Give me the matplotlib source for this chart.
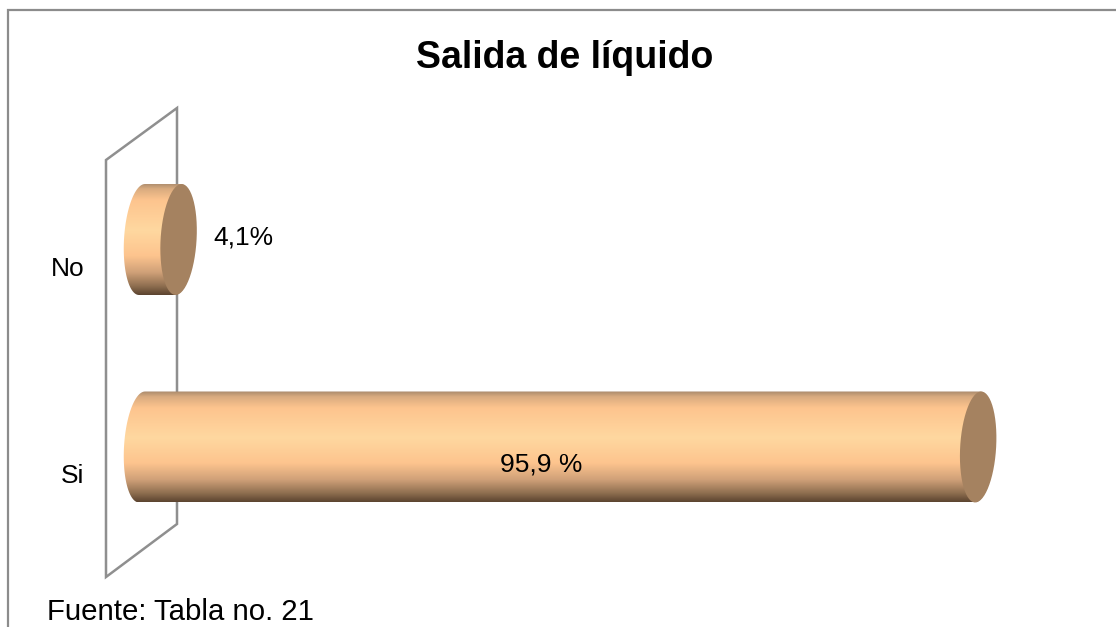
import numpy as np
import matplotlib as mpl
mpl.use('Agg')
import matplotlib.pyplot as plt
from matplotlib.colors import LinearSegmentedColormap
from matplotlib.patches import Polygon, PathPatch
from matplotlib.path import Path

categories = ['Si', 'No']
values = [95.9, 4.1]
value_labels = ['95,9 %', '4,1%']
title = 'Salida de líquido'
source = 'Fuente: Tabla no. 21'

plt.rcParams['font.family'] = ['Liberation Sans', 'DejaVu Sans']

W, H = 1116, 627
fig = plt.figure(figsize=(W / 100, H / 100), dpi=100)
ax = fig.add_axes([0, 0, 1, 1])
ax.axis('off')

# pixels per unit, measured on the picture
x0, sx = 142.0, 8.71
y0, sy = 447.0, 207.5
xlim = (-x0 / sx, (W - x0) / sx)
ylim = ((y0 - H) / sy, y0 / sy)

# pixel coords (y down) for frame and wall
px = mpl.transforms.Affine2D().scale(1, -1).translate(0, H)

# outer frame, only left and top show
ax.add_patch(Polygon([(8, 700), (8, 10), (1200, 10)], closed=False, fill=False,
                     ec='#8c8c8c', lw=1.6, transform=px, zorder=1))
# back wall
ax.add_patch(Polygon([(106, 160), (177, 108), (177, 524), (106, 577)], closed=True, fill=False,
                     ec='#8f8f8f', lw=1.8, transform=px, zorder=1))

shades = LinearSegmentedColormap.from_list('tube', [
    (0.0, '#a98a6c'), (0.05, '#d9ab7f'), (0.15, '#fdc48e'), (0.42, '#ffd8a0'),
    (0.65, '#fdc48e'), (0.8, '#cfa078'), (0.92, '#8f6f50'), (1.0, '#5c4430')])
grad = np.linspace(0, 1, 256).reshape(-1, 1)

half_h = 55.5 / sy
half_w = 18.0 / sx
skew = 3.0 / sx


def ellipse(cx, cy, start, stop):
    t = np.linspace(start, stop, 60)
    return np.column_stack([cx + half_w * np.cos(t) + skew * np.sin(t), cy + half_h * np.sin(t)])


for i, v in enumerate(values):
    body = np.vstack([ellipse(0, i, np.pi / 2, 3 * np.pi / 2), ellipse(v, i, -np.pi / 2, np.pi / 2)])
    clip = PathPatch(Path(np.vstack([body, body[:1]])), transform=ax.transData, fc='none', ec='none')
    ax.add_patch(clip)
    im = ax.imshow(grad, cmap=shades, aspect='auto', zorder=2, vmin=0, vmax=1,
                   extent=(-half_w - skew, v + half_w + skew, i - half_h, i + half_h), origin='upper')
    im.set_clip_path(clip)
    ax.add_patch(Polygon(ellipse(v + 0.1, i, 0, 2 * np.pi), closed=True, fc='#a58260', ec='none', zorder=3))

ax.set_xlim(xlim)
ax.set_ylim(ylim)

for i, c in enumerate(categories):
    ax.text(-6.6, i - 0.14, c, ha='right', va='center', fontsize=19, color='black', zorder=4)

ax.text(45.8, -0.085, value_labels[0], ha='center', va='center', fontsize=19, zorder=4)
ax.text(values[1] + 4.1, 1.01, value_labels[1], ha='left', va='center', fontsize=19, zorder=4)

ax.text(565, 58, title, transform=px, ha='center', va='center', fontsize=27, fontweight='bold', color='black')
ax.text(47, 612, source, transform=px, ha='left', va='center', fontsize=21.2, color='black')

fig.savefig('out.png', dpi=100, facecolor='white')
